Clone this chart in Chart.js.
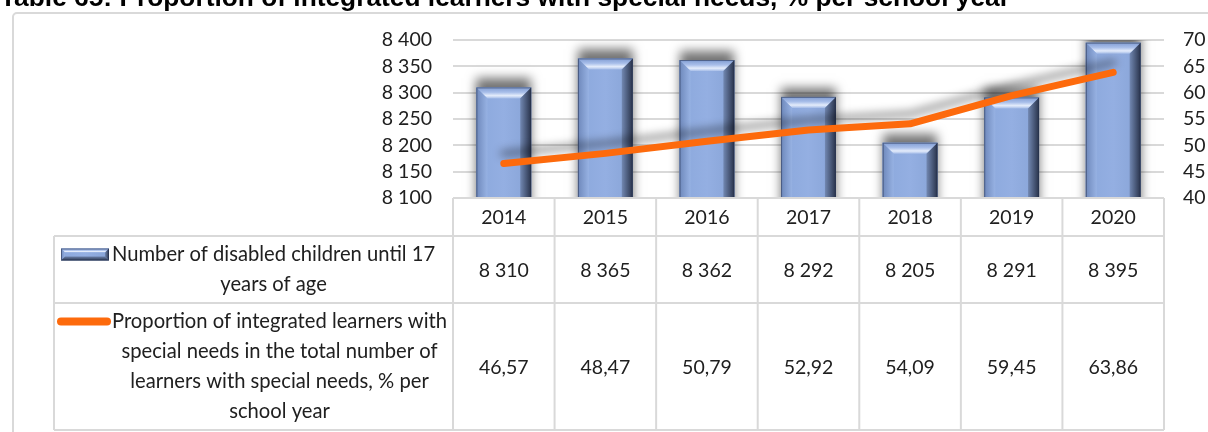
<!DOCTYPE html>
<html>
<head>
<meta charset="utf-8">
<script src="https://cdn.jsdelivr.net/npm/chart.js@4.4.1/dist/chart.umd.min.js"></script>
<style>
  html, body { margin: 0; padding: 0; background: #fff; overflow: hidden; }
  canvas { display: block; }
</style>
</head>
<body>
<canvas id="chart" width="1208" height="432"></canvas>
<script>
// Data
const titleText = 'Table 65: Proportion of integrated learners with special needs, % per school year';
const years = ['2014', '2015', '2016', '2017', '2018', '2019', '2020'];
const disabledChildren = [8310, 8365, 8362, 8292, 8205, 8291, 8395];
const integratedShare = [46.57, 48.47, 50.79, 52.92, 54.09, 59.45, 63.86];
const barSeriesLabel = ['Number of disabled children until 17', 'years of age'];
const lineSeriesLabel = [
  'Proportion of integrated learners with',
  'special needs in the total number of',
  'learners with special needs, % per',
  'school year'
];
const leftAxisRange = [8100, 8400, 50];
const rightAxisRange = [40, 70, 5];

const TEXT = '#202020';
const GRID = '#d9d9d9';
const FONT_FAMILY = 'Lato, "Open Sans", sans-serif';
const ORANGE = '#fd6a0c';

const fmtInt = v => String(Math.round(v)).replace(/\B(?=(\d{3})+(?!\d))/g, ' ');
const fmtDec = v => v.toFixed(2).replace('.', ',');

function poly(ctx, pts, fill) {
  ctx.beginPath();
  ctx.moveTo(pts[0][0], pts[0][1]);
  for (let i = 1; i < pts.length; i++) ctx.lineTo(pts[i][0], pts[i][1]);
  ctx.closePath();
  ctx.fillStyle = fill;
  ctx.fill();
}

// Beveled column face drawn over a bar rectangle
function bevelBar(ctx, l, t, r, btm, b) {
  const w = r - l, h = btm - t;
  b = Math.min(b, w / 2, h / 2);
  ctx.save();
  let g = ctx.createLinearGradient(l, 0, r, 0);
  g.addColorStop(0, '#8ba8dc');
  g.addColorStop(0.5, '#94afe2');
  g.addColorStop(1, '#87a3d6');
  ctx.fillStyle = g;
  ctx.fillRect(l, t, w, h);
  // top bevel
  g = ctx.createLinearGradient(0, t, 0, t + b);
  g.addColorStop(0, '#809cd2');
  g.addColorStop(0.45, '#a9bfea');
  g.addColorStop(0.75, '#e4ecfb');
  g.addColorStop(1, '#a6bde8');
  poly(ctx, [[l, t], [r, t], [r - b, t + b], [l + b, t + b]], g);
  // left bevel
  g = ctx.createLinearGradient(l, 0, l + b, 0);
  g.addColorStop(0, '#6e88bb');
  g.addColorStop(1, '#97b2e3');
  poly(ctx, [[l, t], [l + b, t + b], [l + b, btm - b], [l, btm]], g);
  // right bevel
  g = ctx.createLinearGradient(r - b, 0, r, 0);
  g.addColorStop(0, '#7288b2');
  g.addColorStop(1, '#28324a');
  poly(ctx, [[r, t], [r, btm], [r - b, btm - b], [r - b, t + b]], g);
  // bottom bevel
  g = ctx.createLinearGradient(0, btm - b, 0, btm);
  g.addColorStop(0, '#6a7fa8');
  g.addColorStop(1, '#2c3850');
  poly(ctx, [[l, btm], [r, btm], [r - b, btm - b], [l + b, btm - b]], g);
  ctx.strokeStyle = 'rgba(38,50,76,0.55)';
  ctx.lineWidth = 1;
  ctx.strokeRect(l + 0.5, t + 0.5, w - 1, h - 1);
  ctx.restore();
}

const decorPlugin = {
  id: 'decor',
  beforeDraw(chart) {
    const ctx = chart.ctx;
    ctx.save();
    ctx.fillStyle = '#fff';
    ctx.fillRect(0, 0, chart.width, chart.height);
    // outer frame
    ctx.strokeStyle = GRID;
    ctx.lineWidth = 2;
    ctx.beginPath();
    ctx.roundRect(13, 13, chart.width + 20, chart.height + 20, 4);
    ctx.stroke();
    // heading
    ctx.fillStyle = '#000';
    let size = 21;
    ctx.font = 'bold ' + size + 'px "Liberation Sans", Arial, sans-serif';
    size = size * 1010 / ctx.measureText(titleText).width;
    ctx.font = 'bold ' + size.toFixed(2) + 'px "Liberation Sans", Arial, sans-serif';
    ctx.textBaseline = 'alphabetic';
    ctx.textAlign = 'left';
    ctx.fillText(titleText, 0, 6);
    ctx.restore();
  },
  beforeDatasetDraw(chart, args) {
    const ctx = chart.ctx;
    if (args.meta.type === 'bar') {
      ctx.shadowColor = 'rgba(0,0,0,0.55)';
      ctx.shadowBlur = 10;
      ctx.shadowOffsetY = -9;
    } else {
      ctx.shadowColor = 'rgba(0,0,0,0.36)';
      ctx.shadowBlur = 9;
      ctx.shadowOffsetY = -10;
    }
  },
  afterDatasetDraw(chart, args) {
    const ctx = chart.ctx;
    ctx.shadowColor = 'rgba(0,0,0,0)';
    ctx.shadowBlur = 0;
    ctx.shadowOffsetY = 0;
    if (args.meta.type === 'bar') {
      const area = chart.chartArea;
      ctx.save();
      ctx.beginPath();
      ctx.rect(area.left, area.top, area.right - area.left, area.bottom - area.top);
      ctx.clip();
      args.meta.data.forEach(el => {
        const p = el.getProps(['x', 'y', 'base', 'width'], true);
        bevelBar(ctx, p.x - p.width / 2, p.y, p.x + p.width / 2, p.base, 11);
      });
      ctx.restore();
    }
  },
  afterDraw(chart) {
    const ctx = chart.ctx;
    const area = chart.chartArea;
    const xs = chart.scales.x;
    const n = years.length;
    const colW = (area.right - area.left) / n;
    const top = area.bottom;
    const r1 = 236, r2 = 303, bottom = 430, legendLeft = 54;
    ctx.save();
    ctx.strokeStyle = GRID;
    ctx.lineWidth = 2;
    ctx.beginPath();
    ctx.moveTo(area.left, top); ctx.lineTo(area.right, top);
    [r1, r2, bottom].forEach(y => { ctx.moveTo(legendLeft, y); ctx.lineTo(area.right, y); });
    ctx.moveTo(legendLeft, r1); ctx.lineTo(legendLeft, bottom);
    for (let i = 0; i <= n; i++) {
      const x = area.left + i * colW;
      ctx.moveTo(x, top); ctx.lineTo(x, bottom);
    }
    ctx.stroke();

    ctx.fillStyle = TEXT;
    ctx.font = '19.5px ' + FONT_FAMILY;
    ctx.textAlign = 'center';
    ctx.textBaseline = 'middle';
    years.forEach((yr, i) => {
      const cx = xs.getPixelForValue(i);
      ctx.fillText(yr, cx, (top + r1) / 2 + 1);
      ctx.fillText(fmtInt(disabledChildren[i]), cx, (r1 + r2) / 2 + 1);
      ctx.fillText(fmtDec(integratedShare[i]), cx, (r2 + bottom) / 2 + 1);
    });

    // series labels with their keys
    ctx.font = '20.2px ' + FONT_FAMILY;
    const textLeft = 112, lineH = 30;
    const drawLabel = (lines, rowTop, rowBottom) => {
      const block = Math.max(...lines.map(s => ctx.measureText(s).width));
      const cx = textLeft + block / 2;
      const y0 = (rowTop + rowBottom) / 2 - (lines.length - 1) * lineH / 2;
      lines.forEach((s, k) => ctx.fillText(s, cx, y0 + k * lineH));
      return y0;
    };
    const yBar = drawLabel(barSeriesLabel, r1, r2);
    const yLine = drawLabel(lineSeriesLabel, r2, bottom);
    bevelBar(ctx, 61, yBar - 6, 109, yBar + 6, 4);
    ctx.strokeStyle = ORANGE;
    ctx.lineWidth = 8;
    ctx.lineCap = 'round';
    ctx.beginPath();
    ctx.moveTo(61, yLine); ctx.lineTo(107, yLine);
    ctx.stroke();
    ctx.restore();
  }
};

const tickFont = { family: FONT_FAMILY, size: 19.5, lineHeight: 1 };

new Chart(document.getElementById('chart'), {
  data: {
    labels: years,
    datasets: [
      {
        type: 'line',
        label: lineSeriesLabel.join(' '),
        data: integratedShare,
        yAxisID: 'y1',
        borderColor: ORANGE,
        borderWidth: 7,
        borderCapStyle: 'round',
        borderJoinStyle: 'round',
        pointRadius: 0,
        tension: 0,
        order: 1
      },
      {
        type: 'bar',
        label: barSeriesLabel.join(' '),
        data: disabledChildren,
        yAxisID: 'y',
        backgroundColor: '#8eaadc',
        barPercentage: 0.54,
        categoryPercentage: 1,
        order: 2
      }
    ]
  },
  options: {
    responsive: false,
    devicePixelRatio: 1,
    animation: false,
    events: [],
    layout: { padding: { top: 40, bottom: 234, left: 0, right: 0 } },
    plugins: { legend: { display: false }, tooltip: { enabled: false }, title: { display: false } },
    scales: {
      x: { type: 'category', display: false, offset: true },
      y: {
        position: 'left',
        min: leftAxisRange[0], max: leftAxisRange[1],
        ticks: { stepSize: leftAxisRange[2], autoSkip: false, padding: 21, color: TEXT, font: tickFont, callback: v => fmtInt(v) },
        grid: { color: GRID, lineWidth: 2, drawTicks: false },
        border: { display: false },
        afterFit(s) { s.width = 453; }
      },
      y1: {
        position: 'right',
        min: rightAxisRange[0], max: rightAxisRange[1],
        ticks: { stepSize: rightAxisRange[2], autoSkip: false, padding: 19, color: TEXT, font: tickFont },
        grid: { display: false, drawTicks: false },
        border: { display: false },
        afterFit(s) { s.width = 44; }
      }
    }
  },
  plugins: [decorPlugin]
});
</script>
</body>
</html>
